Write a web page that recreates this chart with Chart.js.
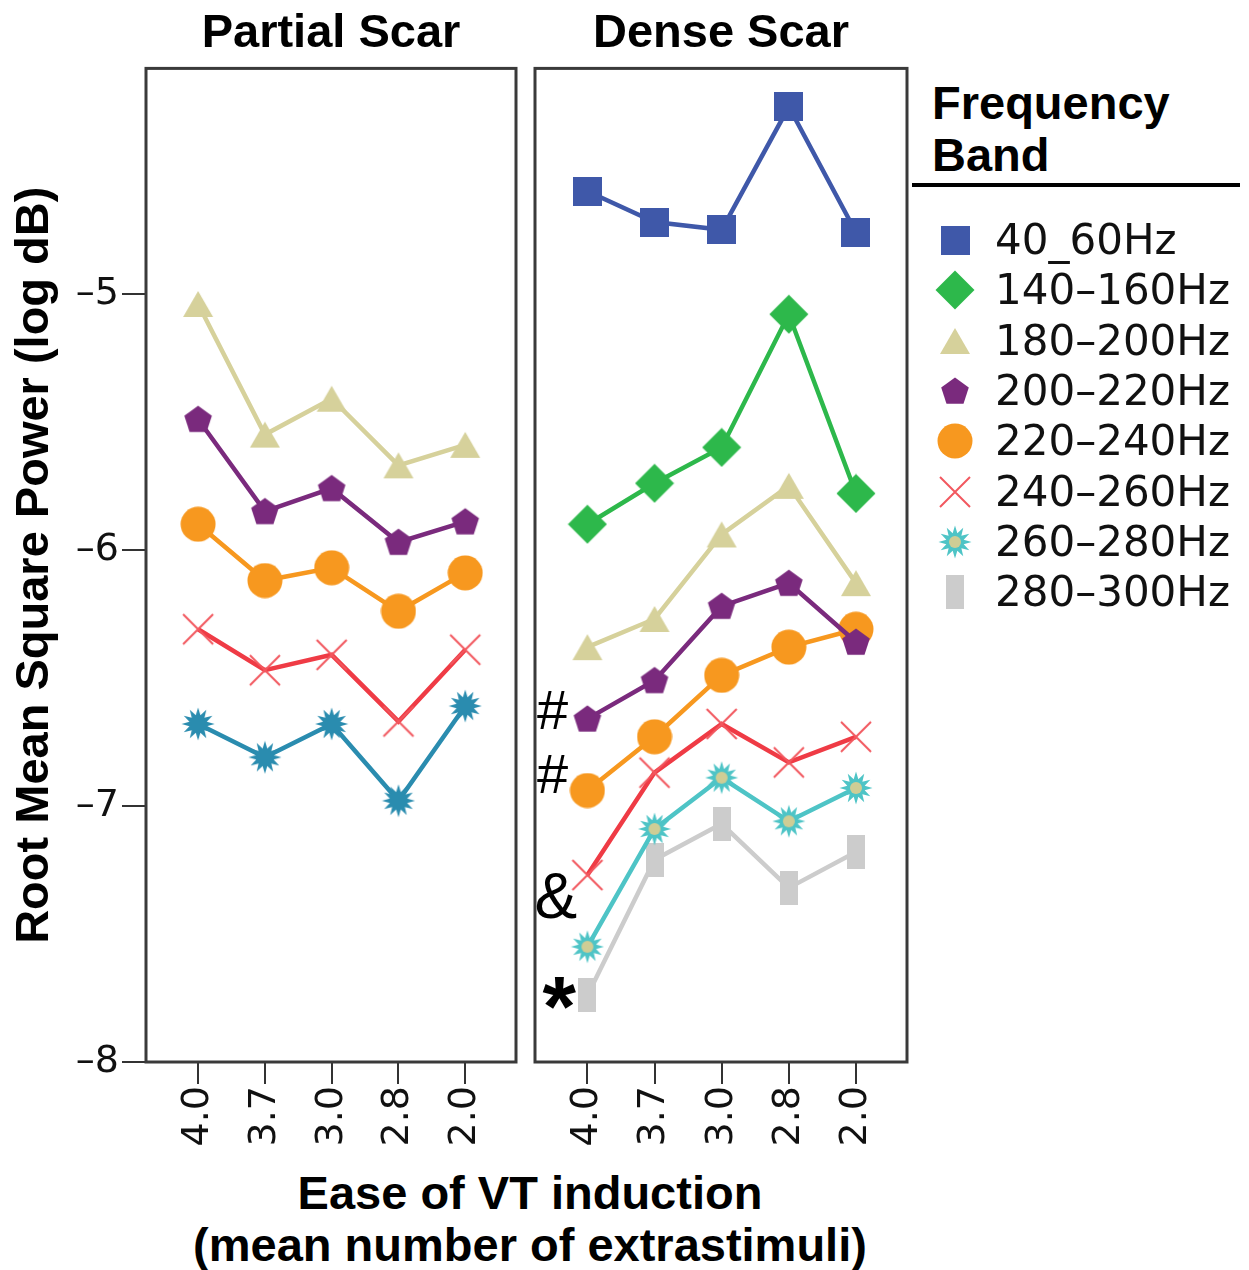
<!DOCTYPE html>
<html>
<head>
<meta charset="utf-8">
<script src="https://cdn.jsdelivr.net/npm/chart.js@4.4.1/dist/chart.umd.min.js"></script>
<style>
  body { margin: 0; background: #fff; width: 1249px; height: 1270px; position: relative; overflow: hidden; font-family: "Liberation Sans", Arial, sans-serif; }
  #partial { position: absolute; left: 0; top: 0; }
  #dense { position: absolute; left: 525px; top: 0; }
  #xtitle { position: absolute; left: 0; top: 1167px; width: 1060px; text-align: center; font-weight: bold; font-size: 47px; line-height: 52px; color: #000; }
  #legend-title { position: absolute; left: 932px; top: 77px; font-weight: bold; font-size: 47px; line-height: 52px; color: #000; }
  #legend-rule { position: absolute; left: 912px; top: 183px; width: 328px; height: 4px; background: #000; }
  #legend-items { position: absolute; left: 915px; top: 215px; }
  .item { display: flex; align-items: center; height: 50.3px; }
  .item canvas { width: 80px; height: 50px; }
  .item span { font-family: "DejaVu Sans", sans-serif; font-size: 42px; line-height: 50px; color: #111; white-space: nowrap; }
</style>
</head>
<body>
<canvas id="partial" width="530" height="1162"></canvas>
<canvas id="dense" width="395" height="1162"></canvas>
<div id="xtitle">Ease of VT induction<br>(mean number of extrastimuli)</div>
<div id="legend-title">Frequency<br>Band</div>
<div id="legend-rule"></div>
<div id="legend-items"></div>
<script>
const xLabels = ['4.0', '3.7', '3.0', '2.8', '2.0'];
const yTicks = [-8, -7, -6, -5];
const yTickLabels = ['\u20138', '\u20137', '\u20136', '\u20135'];
const bands = ['40_60Hz', '140\u2013160Hz', '180\u2013200Hz', '200\u2013220Hz', '220\u2013240Hz', '240\u2013260Hz', '260\u2013280Hz', '280\u2013300Hz'];

// partial scar, by band
const partial180 = [-5.04, -5.55, -5.41, -5.67, -5.59];
const partial200 = [-5.49, -5.85, -5.76, -5.97, -5.89];
const partial220 = [-5.90, -6.12, -6.07, -6.24, -6.09];
const partial240 = [-6.31, -6.47, -6.41, -6.67, -6.39];
const partial260 = [-6.68, -6.81, -6.68, -6.98, -6.61];

// dense scar, by band
const dense40 = [-4.60, -4.72, -4.75, -4.27, -4.76];
const dense140 = [-5.90, -5.74, -5.60, -5.08, -5.78];
const dense180 = [-6.38, -6.27, -5.94, -5.75, -6.13];
const dense200 = [-6.66, -6.51, -6.22, -6.13, -6.36];
const dense220 = [-6.94, -6.73, -6.49, -6.38, -6.31];
const dense240 = [-7.27, -6.87, -6.68, -6.83, -6.73];
const dense260 = [-7.55, -7.09, -6.89, -7.06, -6.93];
const dense280 = [-7.74, -7.21, -7.07, -7.32, -7.18];

// significance marks next to the first dense-scar point of a band
const markText = ['#', '#', '&', '*'];
const markBand = [3, 4, 5, 7];

const bandColors = ['#3f58a9', '#2db84b', '#d6d19b', '#7a2a7d', '#f7981f', '#ef3b45', '#4ec4c6', '#cccccc'];

// ---- marker images ----
function marker(w, h, draw) {
  const c = document.createElement('canvas');
  c.width = w; c.height = h;
  draw(c.getContext('2d'), w, h);
  return c;
}
function polygon(ctx, cx, cy, n, rOut, rIn, rot) {
  ctx.beginPath();
  const steps = rIn ? n * 2 : n;
  for (let i = 0; i < steps; i++) {
    const r = rIn && i % 2 ? rIn : rOut;
    const a = rot + i * Math.PI * 2 / steps;
    const px = cx + r * Math.cos(a), py = cy + r * Math.sin(a);
    i ? ctx.lineTo(px, py) : ctx.moveTo(px, py);
  }
  ctx.closePath();
}
const squareMark = marker(29, 29, (c, w, h) => { c.fillStyle = bandColors[0]; c.fillRect(0, 0, w, h); });
const diamondMark = marker(40, 40, (c) => { c.fillStyle = bandColors[1]; polygon(c, 20, 20, 4, 19.5, 0, 0); c.fill(); });
const triangleMark = marker(32, 28, (c) => {
  c.fillStyle = bandColors[2]; c.beginPath(); c.moveTo(16, 1); c.lineTo(31, 27); c.lineTo(1, 27); c.closePath(); c.fill();
});
const pentagonMark = marker(30, 30, (c) => { c.fillStyle = bandColors[3]; polygon(c, 15, 16, 5, 14.5, 0, -Math.PI / 2); c.fill(); });
const circleMark = marker(36, 36, (c) => { c.fillStyle = bandColors[4]; c.beginPath(); c.arc(18, 18, 17.5, 0, Math.PI * 2); c.fill(); });
const crossMark = marker(34, 34, (c) => {
  c.strokeStyle = '#f2585f'; c.lineWidth = 2;
  c.beginPath(); c.moveTo(2, 2); c.lineTo(32, 32); c.moveTo(32, 2); c.lineTo(2, 32); c.stroke();
});
const starMark = (fill, centre) => marker(34, 34, (c) => {
  c.fillStyle = fill; polygon(c, 17, 17, 12, 16.5, 9, 0); c.fill();
  if (centre) { c.fillStyle = centre; c.beginPath(); c.arc(17, 17, 6, 0, Math.PI * 2); c.fill(); }
});
const tealStar = starMark('#2a8caf', null);
const cyanStar = starMark(bandColors[6], '#cfcd95');
const barMark = marker(18, 34, (c, w, h) => { c.fillStyle = bandColors[7]; c.fillRect(0, 0, w, h); });

const bandMarks = [squareMark, diamondMark, triangleMark, pentagonMark, circleMark, crossMark, cyanStar, barMark];

// ---- chart helpers ----
const tickFont = { family: 'DejaVu Sans', size: 38 };
const titleFont = { family: 'Liberation Sans', size: 47, weight: 'bold' };

function series(label, values, color, mark) {
  return {
    label,
    data: values.map((v, i) => ({ x: i, y: v })),
    borderColor: color,
    backgroundColor: color,
    borderWidth: 4.5,
    tension: 0,
    pointStyle: mark,
    clip: false
  };
}

const framePlugin = {
  id: 'frame',
  afterDraw(chart) {
    const { ctx, chartArea: a } = chart;
    ctx.save();
    ctx.strokeStyle = '#3a3a3a';
    ctx.lineWidth = 3;
    ctx.strokeRect(a.left, a.top, a.right - a.left, a.bottom - a.top);
    ctx.restore();
  }
};

function xScale() {
  return {
    type: 'linear', min: -0.78, max: 4.76,
    afterBuildTicks: s => { s.ticks = xLabels.map((_, i) => ({ value: i })); },
    afterFit: s => { s.height = 100; },
    ticks: { callback: (v, i) => xLabels[i], minRotation: 90, maxRotation: 90, autoSkip: false, font: tickFont, color: '#111', padding: 2 },
    grid: { drawOnChartArea: false, tickLength: 22, color: '#333', lineWidth: 2 },
    border: { display: false }
  };
}
function yScale(show) {
  return {
    display: show,
    min: -8, max: -4.12,
    afterBuildTicks: s => { s.ticks = yTicks.map(v => ({ value: v })); },
    afterFit: s => { s.width = show ? 146 : 0; },
    ticks: { callback: v => yTickLabels[yTicks.indexOf(v)], font: tickFont, color: '#111', padding: 3 },
    grid: { drawOnChartArea: false, tickLength: 24, color: '#333', lineWidth: 2 },
    border: { display: false },
    title: { display: show, text: 'Root Mean Square Power (log dB)', font: titleFont, color: '#000', padding: { top: 7, bottom: 0 } }
  };
}
function baseOptions(title, show, padding) {
  return {
    responsive: false,
    animation: false,
    events: [],
    layout: { padding },
    plugins: {
      legend: { display: false },
      tooltip: { enabled: false },
      title: { display: true, text: title, font: titleFont, color: '#000', fullSize: false, padding: { top: 6, bottom: 6 } }
    },
    scales: { x: xScale(), y: yScale(show) }
  };
}

new Chart(document.getElementById('partial'), {
  type: 'line',
  data: {
    datasets: [
      series(bands[2], partial180, bandColors[2], triangleMark),
      series(bands[3], partial200, bandColors[3], pentagonMark),
      series(bands[4], partial220, bandColors[4], circleMark),
      series(bands[5], partial240, bandColors[5], crossMark),
      series(bands[6], partial260, '#2a8caf', tealStar)
    ]
  },
  options: baseOptions('Partial Scar', true, { left: 0, right: 14, top: 0, bottom: 0 }),
  plugins: [framePlugin]
});

const denseSeries = [dense40, dense140, dense180, dense200, dense220, dense240, dense260, dense280];
const markOffset = [[-35, -9], [-35, -17], [-31, 21], [-28, -2]];
const markFont = ['56px "Liberation Sans"', '56px "Liberation Sans"', '64px "Liberation Sans"', 'bold 86px "Liberation Sans"'];

const marksPlugin = {
  id: 'marks',
  afterDatasetsDraw(chart) {
    const { ctx, scales: { x, y } } = chart;
    ctx.save();
    ctx.fillStyle = '#000';
    markText.forEach((t, i) => {
      const cx = x.getPixelForValue(0) + markOffset[i][0];
      const cy = y.getPixelForValue(denseSeries[markBand[i]][0]) + markOffset[i][1];
      ctx.font = markFont[i];
      const m = ctx.measureText(t);
      const dx = (m.actualBoundingBoxLeft - m.actualBoundingBoxRight) / 2;
      const dy = (m.actualBoundingBoxAscent - m.actualBoundingBoxDescent) / 2;
      ctx.fillText(t, cx + dx, cy + dy);
    });
    ctx.restore();
  }
};

new Chart(document.getElementById('dense'), {
  type: 'line',
  data: { datasets: denseSeries.map((vals, i) => series(bands[i], vals, bandColors[i], bandMarks[i])) },
  options: baseOptions('Dense Scar', false, { left: 10, right: 13, top: 0, bottom: 0 }),
  plugins: [framePlugin, marksPlugin]
});

// legend built from the same bands and markers
const legendBox = document.getElementById('legend-items');
bands.forEach((name, i) => {
  const row = document.createElement('div');
  row.className = 'item';
  const c = document.createElement('canvas');
  c.width = 80; c.height = 50;
  const m = bandMarks[i];
  c.getContext('2d').drawImage(m, 40 - m.width / 2, 25 - m.height / 2);
  const label = document.createElement('span');
  label.textContent = name;
  row.appendChild(c);
  row.appendChild(label);
  legendBox.appendChild(row);
});
</script>
</body>
</html>
